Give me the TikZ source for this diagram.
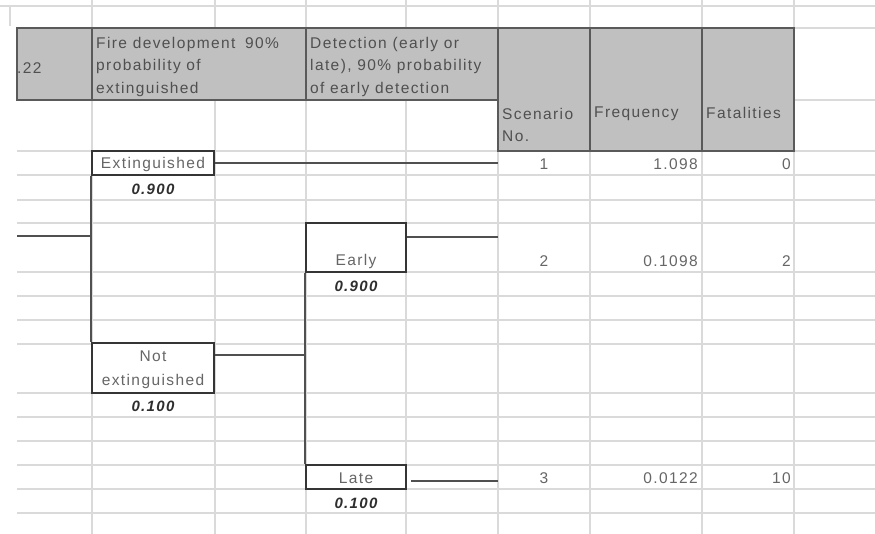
\documentclass[tikz,border=0pt]{standalone}
\usepackage{fontspec}
\setmainfont{Liberation Sans}[LetterSpace=9]
\definecolor{gridgray}{HTML}{DADADA}
\definecolor{hdrfill}{HTML}{C0C0C0}
\definecolor{hdrline}{HTML}{5A5A5A}
\definecolor{treeline}{HTML}{505050}
\definecolor{boxline}{HTML}{353535}
\definecolor{celltext}{HTML}{666666}
\definecolor{hdrtext}{HTML}{505050}
\definecolor{probtext}{HTML}{2E2E2E}
\begin{document}
\begin{tikzpicture}[x=1pt,y=-1pt,
  gridline/.style={draw=gridgray,line width=1.4pt},
  hdrcell/.style={fill=hdrfill,draw=hdrline,line width=1.1pt},
  hdrlabel/.style={anchor=north west,inner sep=0pt,text=hdrtext,align=left,
    font=\fontsize{15.5}{22.5}\selectfont},
  branch/.style={draw=treeline,line width=1.5pt},
  evbox/.style={draw=boxline,line width=2pt,rectangle,inner sep=0pt,fill=white},
  evtext/.style={inner sep=0pt,text=celltext,align=center,
    font=\fontsize{15.5}{24}\selectfont},
  prob/.style={inner sep=0pt,text=probtext,
    font=\fontsize{15}{16}\selectfont\bfseries\itshape},
  num/.style={inner sep=0pt,text=celltext,font=\fontsize{15.5}{16}\selectfont}]

% page frame
\useasboundingbox (0,0) rectangle (875,534);
\fill[white] (0,0) rectangle (875,534);

% spreadsheet grid
\draw[gridline] (0,6) -- (875,6);
\draw[gridline] (10,6) -- (10,26);
\foreach \yy in {151,175,200,223,272,296,320,344,393,417,441,465,489,513}
  \draw[gridline] (17,\yy) -- (875,\yy);
\foreach \yy in {28,100}
  \draw[gridline] (795,\yy) -- (875,\yy);
\foreach \xx in {92,215,306,406,498,590,702,794}
  \draw[gridline] (\xx,0) -- (\xx,534);

% header cells
\path[hdrcell] (17,28) rectangle (92,100);
\path[hdrcell] (92,28) rectangle (306,100);
\path[hdrcell] (306,28) rectangle (498,100);
\path[hdrcell] (498,28) rectangle (590,151);
\path[hdrcell] (590,28) rectangle (702,151);
\path[hdrcell] (702,28) rectangle (794,151);

\node[hdrlabel,anchor=west] (h0) at (17,68) {.22};
\node[hdrlabel] (h1) at (96,37) {Fire development\hspace{4pt} 90\%\\probability of\\extinguished};
\node[hdrlabel] (h2) at (310,37) {Detection (early or\\late), 90\% probability\\of early detection};
\node[hdrlabel] (h3) at (502,108) {Scenario\\No.};
\node[hdrlabel] (h4) at (594,107) {Frequency};
\node[hdrlabel] (h5) at (706,107) {Fatalities};

% event boxes
\node[evbox,minimum width=122pt,minimum height=24pt] (ext) at (153,163) {};
\node[evtext] (extt) at (153,164) {Extinguished};
\node[prob] (p1) at (153,189) {0.900};

\node[evbox,minimum width=122pt,minimum height=50pt] (notext) at (153,368) {};
\node[evtext] (notextt) at (153,370) {Not\\extinguished};
\node[prob] (p2) at (153,406) {0.100};

\node[evbox,minimum width=100pt,minimum height=49pt] (early) at (356,247.5) {};
\node[evtext] (earlyt) at (356,261) {Early};
\node[prob] (p3) at (356,286) {0.900};

\node[evbox,minimum width=100pt,minimum height=24pt] (late) at (356,477) {};
\node[evtext] (latet) at (356,478) {Late};
\node[prob] (p4) at (356,503) {0.100};

% branch points and outcome ends
\coordinate (root) at (17,236);
\coordinate (fork1) at (92,236);
\coordinate (fork2) at (306,355);
\coordinate (end1) at (498,163);
\coordinate (end2) at (498,237);
\coordinate (end3) at (498,481);

% event tree branches
\draw[branch] (root) -- (fork1);
\draw[branch] (ext.south west) -- (notext.north west);
\draw[branch] (ext.east) -- (end1);
\draw[branch] (notext.east |- fork2) -- (fork2);
\draw[branch] (early.south west) -- (late.north west);
\draw[branch] (early.east |- end2) -- (end2);
\draw[branch,shorten <=4pt] (late.east |- end3) -- (end3);

% outcome rows
\node[num] (s1) at (544,164) {1};
\node[num,anchor=east] (f1) at (698,164) {1.098};
\node[num,anchor=east] (d1) at (791,164) {0};

\node[num] (s2) at (544,261) {2};
\node[num,anchor=east] (f2) at (698,261) {0.1098};
\node[num,anchor=east] (d2) at (791,261) {2};

\node[num] (s3) at (544,478) {3};
\node[num,anchor=east] (f3) at (698,478) {0.0122};
\node[num,anchor=east] (d3) at (791,478) {10};
\end{tikzpicture}
\end{document}
